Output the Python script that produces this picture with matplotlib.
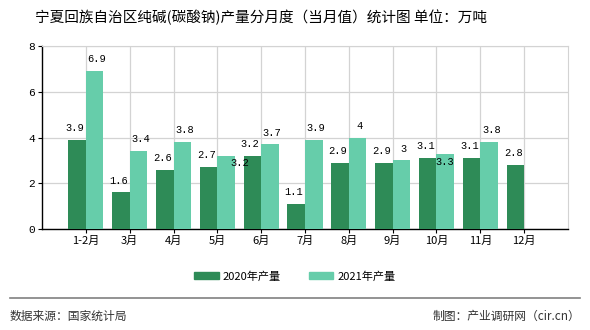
import numpy as np
import matplotlib.pyplot as plt
from matplotlib.patches import Patch

plt.rcParams['font.family'] = ['Noto Sans CJK SC', 'DejaVu Sans']

months = ['1-2月', '3月', '4月', '5月', '6月', '7月', '8月', '9月', '10月', '11月', '12月']
output_2020 = [3.9, 1.6, 2.6, 2.7, 3.2, 1.1, 2.9, 2.9, 3.1, 3.1, 2.8]
output_2021 = [6.9, 3.4, 3.8, 3.2, 3.7, 3.9, 4, 3, 3.3, 3.8, None]

c2020 = '#2e8b57'
c2021 = '#66cdaa'

fig = plt.figure(figsize=(5.9, 3.3), dpi=100)
ax = fig.add_axes([0.0712, 0.306, 0.8915, 0.5546])

x = np.arange(len(months))
w = 0.4
ax.bar(x - w / 2, output_2020, width=w, color=c2020, zorder=3)
vals21 = [v if v is not None else 0 for v in output_2021]
ax.bar(x[:10] + w / 2, vals21[:10], width=w, color=c2021, zorder=3)

num_font = dict(family='Liberation Mono', fontsize=7.5, color='black')
for xi, v in zip(x, output_2020):
    ax.text(xi - w / 2 - 0.05, v + 0.3, f'{v:g}', ha='center', va='bottom', **num_font)
for xi, v in zip(x, output_2021):
    if v is None:
        continue
    if months[xi] == '5月':
        ax.text(xi + w / 2 + 0.32, v - 0.55, f'{v:g}', ha='center', va='bottom', **num_font)
    elif months[xi] == '10月':
        ax.text(xi + w / 2, v - 0.6, f'{v:g}', ha='center', va='bottom', **num_font)
    else:
        ax.text(xi + w / 2 + 0.05, v + 0.3, f'{v:g}', ha='center', va='bottom', **num_font)

ax.set_xlim(-1, 11)
ax.set_ylim(0, 8)
ax.set_xticks(x)
ax.set_xticklabels(months, fontsize=8)
ax.set_yticks([0, 2, 4, 6, 8])
ax.set_yticklabels(['0', '2', '4', '6', '8'], fontsize=8, family='Liberation Mono')
ax.grid(True, color='#d3d3d3', linewidth=0.9, zorder=0)
ax.set_axisbelow(True)
ax.tick_params(axis='both', length=3, width=0.8, colors='black', pad=2)
for s in ['top', 'right']:
    ax.spines[s].set_color('#d3d3d3')
for s in ['left', 'bottom']:
    ax.spines[s].set_color('black')
    ax.spines[s].set_linewidth(1)

fig.text(0.443, 0.948, '宁夏回族自治区纯碱(碳酸钠)产量分月度（当月值）统计图 单位：万吨',
         ha='center', va='center', fontsize=10.5)

handles = [Patch(color=c2020, label='2020年产量'), Patch(color=c2021, label='2021年产量')]
fig.legend(handles=handles, loc='center', bbox_to_anchor=(0.5, 0.162), ncol=2,
           frameon=False, fontsize=8, handlelength=2.2, handleheight=0.6,
           columnspacing=2.5, handletextpad=0.4)

fig.add_artist(plt.Line2D([0.017, 0.983], [0.097, 0.097], color='#808080', linewidth=1.2))
fig.text(0.017, 0.042, '数据来源：国家统计局', ha='left', va='center', fontsize=8.5, color='#333333')
fig.text(0.983, 0.042, '制图：产业调研网（cir.cn）', ha='right', va='center', fontsize=8.5, color='#333333')

fig.savefig('out.png', dpi=100)
